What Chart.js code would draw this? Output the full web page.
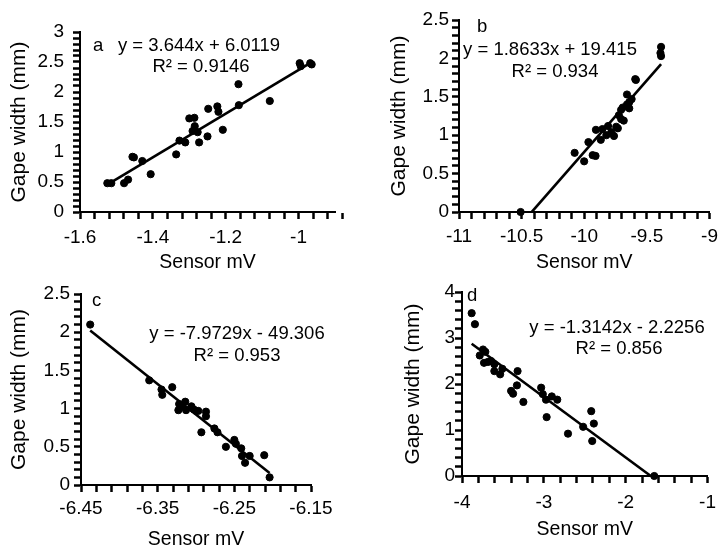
<!DOCTYPE html>
<html>
<head>
<meta charset="utf-8">
<script src="https://cdn.jsdelivr.net/npm/chart.js@4.4.1/dist/chart.umd.min.js"></script>
<style>
  body { margin: 0; background: #fff; }
  #wrap { position: relative; width: 724px; height: 548px; overflow: hidden; }
  canvas { position: absolute; }
</style>
</head>
<body>
<div id="wrap">
  <canvas id="panelA" width="362" height="274" style="left:0;top:0"></canvas>
  <canvas id="panelB" width="362" height="274" style="left:362px;top:0"></canvas>
  <canvas id="panelC" width="362" height="274" style="left:0;top:274px"></canvas>
  <canvas id="panelD" width="362" height="274" style="left:362px;top:274px"></canvas>
</div>
<script>
// Panel a - sensor mV vs gape width
const aX = [-1.525, -1.514, -1.479, -1.468, -1.456, -1.452, -1.429, -1.406, -1.336, -1.327,
            -1.311, -1.300, -1.286, -1.285, -1.291, -1.277, -1.273, -1.250, -1.248, -1.223,
            -1.220, -1.208, -1.165, -1.164, -1.079, -0.997, -0.994, -0.968, -0.964];
const aY = [0.48, 0.48, 0.48, 0.54, 0.92, 0.91, 0.85, 0.63, 0.96, 1.19,
            1.16, 1.56, 1.57, 1.43, 1.35, 1.33, 1.16, 1.26, 1.72, 1.76,
            1.67, 1.37, 2.13, 1.78, 1.85, 2.48, 2.43, 2.48, 2.46];

// Panel b
const bX = [-10.508, -10.077, -10.001, -9.967, -9.933, -9.910, -9.907, -9.868, -9.855, -9.824,
            -9.810, -9.784, -9.763, -9.745, -9.732, -9.724, -9.706, -9.706, -9.693, -9.685,
            -9.659, -9.641, -9.641, -9.659, -9.622, -9.593, -9.588, -9.387, -9.392, -9.387];
const bY = [0, 0.77, 0.66, 0.91, 0.74, 0.73, 1.07, 0.94, 1.08, 1.00,
            1.12, 1.04, 0.99, 1.11, 1.09, 1.26, 1.21, 1.33, 1.36, 1.19,
            1.40, 1.43, 1.35, 1.53, 1.47, 1.73, 1.72, 2.15, 2.07, 2.03];

// Panel c
const cX = [-6.438, -6.361, -6.345, -6.344, -6.331, -6.323, -6.322, -6.318, -6.314, -6.313,
            -6.306, -6.303, -6.300, -6.297, -6.293, -6.287, -6.287, -6.276, -6.272, -6.261,
            -6.250, -6.248, -6.241, -6.240, -6.236, -6.230, -6.211, -6.204];
const cY = [2.10, 1.37, 1.25, 1.18, 1.28, 0.98, 1.06, 1.03, 1.09, 0.98,
            1.03, 0.99, 0.97, 0.97, 0.69, 0.96, 0.90, 0.74, 0.69, 0.50,
            0.59, 0.54, 0.48, 0.38, 0.29, 0.38, 0.39, 0.10];

// Panel d
const dX = [-3.882, -3.842, -3.783, -3.743, -3.731, -3.715, -3.684, -3.645, -3.605, -3.605,
            -3.534, -3.507, -3.400, -3.376, -3.321, -3.329, -3.250, -3.033, -3.013, -2.974,
            -2.966, -2.903, -2.836, -2.705, -2.520, -2.421, -2.389, -2.409, -1.651];
const dY = [3.54, 3.30, 2.62, 2.75, 2.46, 2.70, 2.48, 2.50, 2.43, 2.28,
            2.21, 2.33, 1.85, 1.79, 2.28, 1.97, 1.61, 1.92, 1.78, 1.66,
            1.28, 1.73, 1.66, 0.92, 1.07, 1.41, 1.14, 0.76, 0];

// Linear fits shown on each panel
const panelLetters = ['a', 'b', 'c', 'd'];
const slopes = [3.644, 1.8633, -7.9729, -1.3142];
const intercepts = [6.0119, 19.415, -49.306, -2.2256];
const rSquared = ['0.9146', '0.934', '0.953', '0.856'];
const equations = ['y = 3.644x + 6.0119', 'y = 1.8633x + 19.415', 'y = -7.9729x - 49.306', 'y = -1.3142x - 2.2256'];
const fitFrom = [-1.525, -10.419, -6.438, -3.882];
const fitTo = [-0.964, -9.387, -6.204, -1.6935];

// Axis ranges and tick labels
const xMin = [-1.6, -11, -6.45, -4];
const xMax = [-0.9, -9, -6.15, -1];
const xTicks = [[-1.6, -1.4, -1.2, -1], [-11, -10.5, -10, -9.5, -9], [-6.45, -6.35, -6.25, -6.15], [-4, -3, -2, -1]];
const xMinor = [0.04, 0.1, 0.02, 0.2];
const yMax = [3, 2.5, 2.5, 4];
const yTicks = [[0, 0.5, 1, 1.5, 2, 2.5, 3], [0, 0.5, 1, 1.5, 2, 2.5], [0, 0.5, 1, 1.5, 2, 2.5], [0, 1, 2, 3, 4]];
const yMinor = [0.1, 0.1, 0.1, 0.2];

const FONT = '"Liberation Sans", Arial, sans-serif';

// Per-panel layout (pixels inside each 362x274 canvas)
const layoutCfg = [
    { top: 32, right: 27, bottom: 0, yW: 80, yPad: 9, yTitlePad: 7, xH: 62, xPad: 7, xTitlePad: 0,
      letter: [93, 46], eq: [199, 46], r2: [201, 67] },
    { top: 20, right: 9, bottom: 0, yW: 97, yPad: 3, yTitlePad: 25, xH: 62, xPad: 6, xTitlePad: 0,
      letter: [115, 27], eq: [188, 50], r2: [193, 72] },
    { top: 20, right: 51, bottom: -3, yW: 81, yPad: 4, yTitlePad: 7, xH: 66, xPad: 5, xTitlePad: 0,
      letter: [92, 27], eq: [237, 60], r2: [237, 82] },
    { top: 18, right: 9, bottom: 0, yW: 100, yPad: 0, yTitlePad: 39, xH: 72, xPad: 8, xTitlePad: 7,
      letter: [105, 22], eq: [255, 54], r2: [257, 75] }
];

// Tick values every minor step; labels only on the major ones
function minorTicks(min, max, step) {
    const n = Math.round((max - min) / step);
    const out = [];
    for (let k = 0; k <= n; k++) out.push({ value: +(min + k * step).toFixed(4) });
    return out;
}
const isMajor = (v, majors, step) => majors.some(t => Math.abs(t - v) < step / 10);
const fmt = v => String(+v.toFixed(3));

// Panel letter, fit equation and R squared
function fitLabels(i) {
    const L = layoutCfg[i];
    return {
        id: 'fitLabels',
        afterDraw(chart) {
            const ctx = chart.ctx;
            ctx.save();
            ctx.fillStyle = '#000';
            ctx.font = '18.5px ' + FONT;
            ctx.textBaseline = 'middle';
            ctx.textAlign = 'left';
            ctx.fillText(panelLetters[i], L.letter[0], L.letter[1]);
            ctx.textAlign = 'center';
            ctx.fillText(equations[i], L.eq[0], L.eq[1]);
            ctx.fillText('R\u00b2 = ' + rSquared[i], L.r2[0], L.r2[1]);
            ctx.restore();
        }
    };
}

function tickGrid() {
    return {
        display: true,
        drawOnChartArea: false,
        drawTicks: true,
        tickLength: 7,
        tickWidth: 2.5,
        tickColor: '#000'
    };
}

function createPanel(canvasId, i, xs, ys) {
    const L = layoutCfg[i];
    const points = xs.map((x, k) => ({ x: x, y: ys[k] }));
    const fit = [fitFrom[i], fitTo[i]].map(x => ({ x: x, y: slopes[i] * x + intercepts[i] }));

    new Chart(document.getElementById(canvasId), {
        type: 'scatter',
        data: {
            datasets: [{
                data: points,
                backgroundColor: '#000',
                borderColor: '#000',
                pointRadius: 3.6,
                clip: false
            }, {
                type: 'line',
                data: fit,
                borderColor: '#000',
                borderWidth: 2.6,
                pointRadius: 0,
                fill: false,
                clip: false
            }]
        },
        options: {
            responsive: false,
            animation: false,
            layout: { padding: { top: L.top, right: L.right, bottom: L.bottom, left: 0 } },
            plugins: {
                legend: { display: false },
                tooltip: { enabled: false }
            },
            scales: {
                x: {
                    type: 'linear',
                    min: xMin[i],
                    max: xMax[i],
                    afterBuildTicks: s => { s.ticks = minorTicks(xMin[i], xMax[i], xMinor[i]); },
                    afterFit: s => { s.height = L.xH; },
                    grid: tickGrid(),
                    border: { display: true, color: '#000', width: 2 },
                    ticks: {
                        color: '#000',
                        padding: L.xPad,
                        maxRotation: 0,
                        autoSkip: false,
                        font: { family: FONT, size: 19 },
                        callback: v => isMajor(v, xTicks[i], xMinor[i]) ? fmt(v) : ''
                    },
                    title: {
                        display: true,
                        text: 'Sensor mV',
                        color: '#000',
                        padding: { top: 0, bottom: L.xTitlePad },
                        font: { family: FONT, size: 19.5 }
                    }
                },
                y: {
                    type: 'linear',
                    min: 0,
                    max: yMax[i],
                    afterBuildTicks: s => { s.ticks = minorTicks(0, yMax[i], yMinor[i]); },
                    afterFit: s => { s.width = L.yW; },
                    grid: tickGrid(),
                    border: { display: true, color: '#000', width: 2 },
                    ticks: {
                        color: '#000',
                        padding: L.yPad,
                        autoSkip: false,
                        font: { family: FONT, size: 19 },
                        callback: v => isMajor(v, yTicks[i], yMinor[i]) ? fmt(v) : ''
                    },
                    title: {
                        display: true,
                        text: 'Gape width (mm)',
                        color: '#000',
                        padding: { top: L.yTitlePad, bottom: 0 },
                        font: { family: FONT, size: 21 }
                    }
                }
            }
        },
        plugins: [fitLabels(i)]
    });
}

createPanel('panelA', 0, aX, aY);
createPanel('panelB', 1, bX, bY);
createPanel('panelC', 2, cX, cY);
createPanel('panelD', 3, dX, dY);
</script>
</body>
</html>
